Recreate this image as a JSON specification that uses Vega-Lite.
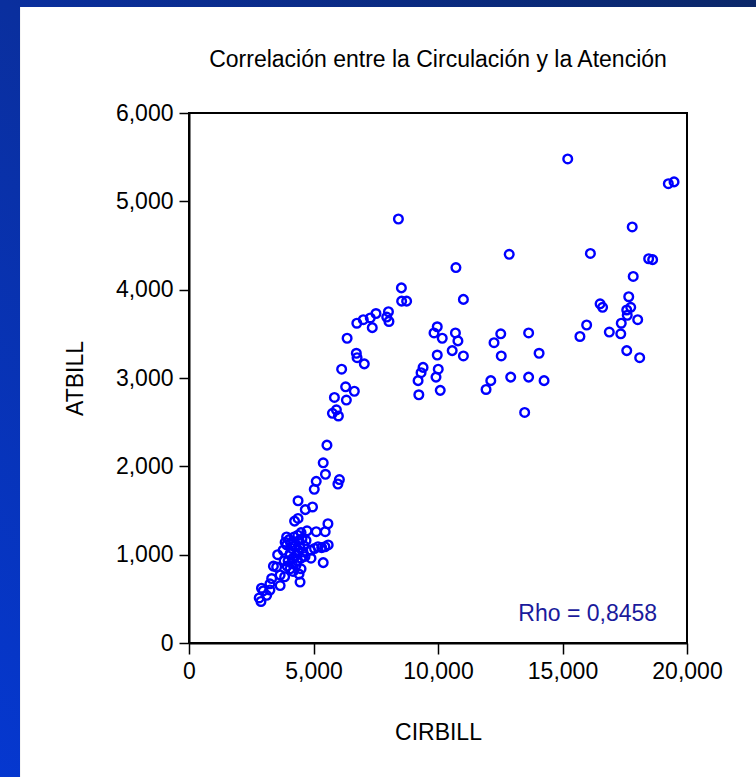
{
  "$schema": "https://vega.github.io/schema/vega-lite/v6.json",
  "width": 498,
  "height": 530,
  "autosize": {"type": "none"},
  "padding": {"left": 189, "top": 113, "right": 69, "bottom": 134},
  "background": "#0b2f9f",
  "title": {
    "text": "Correlación entre la Circulación y la Atención",
    "font": "Liberation Sans",
    "fontSize": 23,
    "fontWeight": "normal",
    "color": "#000000",
    "frame": "group",
    "anchor": "middle",
    "baseline": "alphabetic",
    "offset": -101,
    "zindex": 1
  },
  "config": {
    "view": {"stroke": null},
    "axis": {
      "zindex": 1,
      "domainColor": "#000000",
      "domainWidth": 2,
      "tickColor": "#000000",
      "tickWidth": 1.5,
      "tickSize": 10,
      "grid": false,
      "labelFlush": false,
      "labelFont": "Liberation Sans",
      "labelFontSize": 23,
      "labelColor": "#000000",
      "titleFont": "Liberation Sans",
      "titleFontSize": 23,
      "titleFontWeight": "normal",
      "titleColor": "#000000"
    }
  },
  "datasets": {
    "pts": [
      {"cirbill": 8410, "atbill": 4800}, {"cirbill": 12860, "atbill": 4400}, {"cirbill": 10720, "atbill": 4250},
      {"cirbill": 8530, "atbill": 4020}, {"cirbill": 8540, "atbill": 3870}, {"cirbill": 8740, "atbill": 3870},
      {"cirbill": 11020, "atbill": 3890}, {"cirbill": 8010, "atbill": 3750}, {"cirbill": 7940, "atbill": 3690},
      {"cirbill": 8030, "atbill": 3640}, {"cirbill": 9970, "atbill": 3580}, {"cirbill": 9840, "atbill": 3510},
      {"cirbill": 10170, "atbill": 3450}, {"cirbill": 10700, "atbill": 3510}, {"cirbill": 10800, "atbill": 3420},
      {"cirbill": 9970, "atbill": 3260}, {"cirbill": 10570, "atbill": 3310}, {"cirbill": 11020, "atbill": 3250},
      {"cirbill": 9400, "atbill": 3120}, {"cirbill": 9320, "atbill": 3060}, {"cirbill": 9200, "atbill": 2970},
      {"cirbill": 10010, "atbill": 3100}, {"cirbill": 9920, "atbill": 3010}, {"cirbill": 9230, "atbill": 2810},
      {"cirbill": 10090, "atbill": 2860}, {"cirbill": 12520, "atbill": 3500}, {"cirbill": 12250, "atbill": 3400},
      {"cirbill": 12540, "atbill": 3250}, {"cirbill": 13640, "atbill": 3510}, {"cirbill": 14060, "atbill": 3280},
      {"cirbill": 12120, "atbill": 2970}, {"cirbill": 11930, "atbill": 2870}, {"cirbill": 12920, "atbill": 3010},
      {"cirbill": 13640, "atbill": 3010}, {"cirbill": 14260, "atbill": 2970}, {"cirbill": 13480, "atbill": 2610},
      {"cirbill": 15210, "atbill": 5480}, {"cirbill": 19250, "atbill": 5200}, {"cirbill": 19480, "atbill": 5220},
      {"cirbill": 17800, "atbill": 4710}, {"cirbill": 16120, "atbill": 4410}, {"cirbill": 18460, "atbill": 4350},
      {"cirbill": 18620, "atbill": 4340}, {"cirbill": 17840, "atbill": 4150}, {"cirbill": 17660, "atbill": 3920},
      {"cirbill": 16510, "atbill": 3840}, {"cirbill": 16610, "atbill": 3800}, {"cirbill": 17580, "atbill": 3770},
      {"cirbill": 17740, "atbill": 3800}, {"cirbill": 17600, "atbill": 3710}, {"cirbill": 18020, "atbill": 3660},
      {"cirbill": 15970, "atbill": 3600}, {"cirbill": 15700, "atbill": 3470}, {"cirbill": 16880, "atbill": 3520},
      {"cirbill": 17340, "atbill": 3500}, {"cirbill": 17360, "atbill": 3620}, {"cirbill": 17580, "atbill": 3310},
      {"cirbill": 18100, "atbill": 3230}, {"cirbill": 7510, "atbill": 3730}, {"cirbill": 7280, "atbill": 3680},
      {"cirbill": 7000, "atbill": 3660}, {"cirbill": 6740, "atbill": 3620}, {"cirbill": 7360, "atbill": 3570},
      {"cirbill": 6350, "atbill": 3450}, {"cirbill": 6720, "atbill": 3280}, {"cirbill": 6750, "atbill": 3230},
      {"cirbill": 7040, "atbill": 3160}, {"cirbill": 6130, "atbill": 3100}, {"cirbill": 6290, "atbill": 2900},
      {"cirbill": 6640, "atbill": 2850}, {"cirbill": 5840, "atbill": 2780}, {"cirbill": 6320, "atbill": 2750},
      {"cirbill": 5920, "atbill": 2640}, {"cirbill": 5760, "atbill": 2600}, {"cirbill": 6000, "atbill": 2570},
      {"cirbill": 5540, "atbill": 2240}, {"cirbill": 5390, "atbill": 2040}, {"cirbill": 5480, "atbill": 1910},
      {"cirbill": 5110, "atbill": 1830}, {"cirbill": 5030, "atbill": 1740}, {"cirbill": 6040, "atbill": 1850},
      {"cirbill": 5980, "atbill": 1800}, {"cirbill": 4380, "atbill": 1610}, {"cirbill": 4670, "atbill": 1510},
      {"cirbill": 4960, "atbill": 1540}, {"cirbill": 4240, "atbill": 1380}, {"cirbill": 4380, "atbill": 1410},
      {"cirbill": 5580, "atbill": 1350}, {"cirbill": 5470, "atbill": 1260}, {"cirbill": 5110, "atbill": 1260},
      {"cirbill": 4740, "atbill": 1270}, {"cirbill": 4500, "atbill": 1250}, {"cirbill": 5590, "atbill": 1110},
      {"cirbill": 5460, "atbill": 1090}, {"cirbill": 5330, "atbill": 1080}, {"cirbill": 5180, "atbill": 1090},
      {"cirbill": 5040, "atbill": 1070}, {"cirbill": 4880, "atbill": 1050}, {"cirbill": 5390, "atbill": 910},
      {"cirbill": 4900, "atbill": 960}, {"cirbill": 4500, "atbill": 840}, {"cirbill": 4460, "atbill": 690},
      {"cirbill": 3560, "atbill": 1000}, {"cirbill": 3390, "atbill": 870}, {"cirbill": 3520, "atbill": 860},
      {"cirbill": 3660, "atbill": 770}, {"cirbill": 3840, "atbill": 750}, {"cirbill": 3320, "atbill": 730},
      {"cirbill": 3250, "atbill": 670}, {"cirbill": 3660, "atbill": 650}, {"cirbill": 2910, "atbill": 620},
      {"cirbill": 2980, "atbill": 590}, {"cirbill": 2820, "atbill": 510}, {"cirbill": 2890, "atbill": 470},
      {"cirbill": 3120, "atbill": 540}, {"cirbill": 3250, "atbill": 600},
      {"cirbill": 4020, "atbill": 1170}, {"cirbill": 4080, "atbill": 1130}, {"cirbill": 3920, "atbill": 1110},
      {"cirbill": 3860, "atbill": 1140}, {"cirbill": 4370, "atbill": 1220}, {"cirbill": 3920, "atbill": 1200},
      {"cirbill": 4140, "atbill": 1070}, {"cirbill": 4260, "atbill": 1100}, {"cirbill": 4380, "atbill": 1050},
      {"cirbill": 4460, "atbill": 1080}, {"cirbill": 4580, "atbill": 1030}, {"cirbill": 4300, "atbill": 990},
      {"cirbill": 4180, "atbill": 960}, {"cirbill": 4060, "atbill": 1010}, {"cirbill": 3980, "atbill": 930},
      {"cirbill": 4140, "atbill": 900}, {"cirbill": 4340, "atbill": 930}, {"cirbill": 4500, "atbill": 960},
      {"cirbill": 4660, "atbill": 980}, {"cirbill": 4620, "atbill": 1100}, {"cirbill": 4700, "atbill": 1160},
      {"cirbill": 4300, "atbill": 880}, {"cirbill": 4060, "atbill": 840}, {"cirbill": 4180, "atbill": 810},
      {"cirbill": 4420, "atbill": 780}, {"cirbill": 3940, "atbill": 870}, {"cirbill": 3820, "atbill": 930},
      {"cirbill": 3780, "atbill": 1050}, {"cirbill": 4420, "atbill": 1160}, {"cirbill": 4540, "atbill": 1180},
      {"cirbill": 4220, "atbill": 1200}
    ],
    "note": [{"label": "Rho = 0,8458"}]
  },
  "data": {"name": "pts"},
  "layer": [
    {
      "mark": {
        "type": "rect",
        "stroke": null,
        "color": {
          "gradient": "linear",
          "x1": 0, "y1": 1, "x2": 1, "y2": 0,
          "stops": [
            {"offset": 0, "color": "#0538d2"},
            {"offset": 0.5, "color": "#0a2f9e"},
            {"offset": 1, "color": "#0b2766"}
          ]
        }
      },
      "encoding": {
        "x": {"datum": -8000, "type": "quantitative"},
        "x2": {"datum": 24000},
        "y": {"datum": -1800, "type": "quantitative"},
        "y2": {"datum": 7400}
      }
    },
    {
      "mark": {"type": "rect", "fill": "#ffffff", "stroke": null},
      "encoding": {
        "x": {"datum": -6750, "type": "quantitative"},
        "x2": {"datum": 24000},
        "y": {"datum": -1800, "type": "quantitative"},
        "y2": {"datum": 7200}
      }
    },
    {
      "mark": {"type": "rect", "fill": null, "fillOpacity": 0, "stroke": "#000000", "strokeWidth": 2},
      "encoding": {
        "x": {"datum": 0, "type": "quantitative"},
        "x2": {"datum": 20000},
        "y": {"datum": 0, "type": "quantitative"},
        "y2": {"datum": 6000}
      }
    },
    {
      "mark": {"type": "point", "shape": "circle", "filled": false, "stroke": "#0000ff", "strokeWidth": 2.4, "size": 75, "opacity": 1},
      "encoding": {
        "x": {
          "field": "cirbill", "type": "quantitative", "title": "CIRBILL",
          "scale": {"domain": [0, 20000], "nice": false, "zero": false},
          "axis": {"zindex": 1, "values": [0, 5000, 10000, 15000, 20000], "format": ",.0f", "tickSize": 11, "labelPadding": 6, "titlePadding": 38}
        },
        "y": {
          "field": "atbill", "type": "quantitative", "title": "ATBILL",
          "scale": {"domain": [0, 6000], "nice": false, "zero": false},
          "axis": {"zindex": 1, "values": [0, 1000, 2000, 3000, 4000, 5000, 6000], "format": ",.0f", "labelPadding": 6, "titlePadding": 28}
        }
      }
    },
    {
      "data": {"name": "note"},
      "mark": {"type": "text", "align": "right", "baseline": "middle", "font": "Liberation Sans", "fontSize": 23, "color": "#1a1a9c"},
      "encoding": {
        "x": {"datum": 18800, "type": "quantitative"},
        "y": {"datum": 330, "type": "quantitative"},
        "text": {"field": "label"}
      }
    }
  ]
}
